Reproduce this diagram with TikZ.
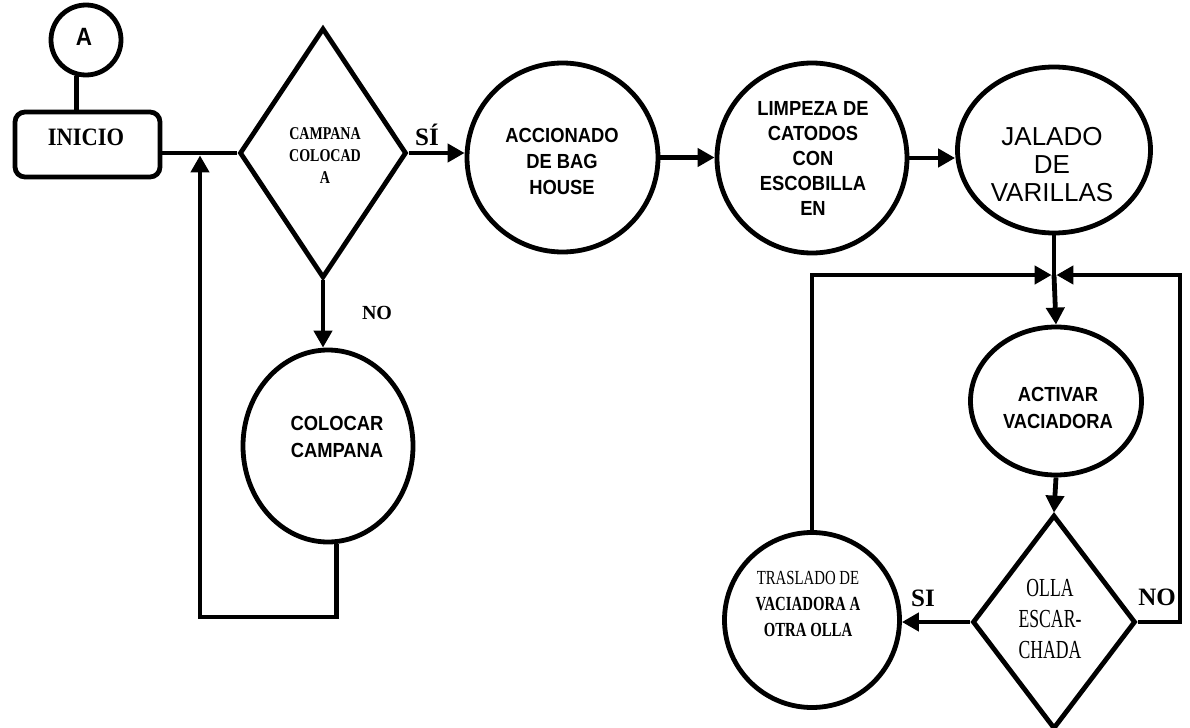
\documentclass[tikz,border=0pt]{standalone}
\usepackage{fontspec}
\setmainfont{Liberation Serif}
\newfontfamily\sansbody[FakeStretch=0.9]{Liberation Sans}
\newfontfamily\sansplain{Liberation Sans}
\newfontfamily\serifcond[FakeStretch=0.78]{Liberation Serif}
\newfontfamily\serifmid[FakeStretch=0.74]{Liberation Serif}
\newfontfamily\serifnarrow[FakeStretch=0.68]{Liberation Serif}
\newfontfamily\serifstart[FakeStretch=0.9]{Liberation Serif}
\usetikzlibrary{shapes.geometric,arrows.meta,calc}

\begin{document}
\begin{tikzpicture}[x=0.5pt,y=-0.5pt,
  shapebox/.style={draw, line width=2.4pt, inner sep=0pt},
  proc/.style={shapebox, ellipse},
  decision/.style={shapebox, diamond},
  link/.style={line width=2.4pt},
  flow/.style={link, -{Triangle[length=8.5pt,width=9pt]}},
  txt/.style={inner sep=0pt, align=center},
  sanstxt/.style={txt, font=\sansbody\bfseries\fontsize{10.2}{13}\selectfont},
  answer/.style={txt, font=\bfseries\fontsize{12.5}{14}\selectfont}
]
\useasboundingbox (0,0) rectangle (1190,728);

% shapes
\node[proc, minimum width=35pt, minimum height=35pt] (A) at (86,40) {};
\node[shapebox, rounded corners=5pt, minimum width=72.5pt, minimum height=32.5pt] (inicio) at (87.5,144.5) {};
\node[decision, minimum width=83.5pt, minimum height=125pt] (d1) at (323,153) {};
\node[proc, minimum width=95.5pt, minimum height=94.5pt] (acc) at (562.5,157.5) {};
\node[proc, minimum width=95pt, minimum height=95pt] (limp) at (812,158) {};
\node[proc, minimum width=96.5pt, minimum height=83pt] (jal) at (1054,150) {};
\node[proc, minimum width=85pt, minimum height=96pt] (col) at (328,446) {};
\node[proc, minimum width=85.5pt, minimum height=74pt] (act) at (1056,401) {};
\node[decision, minimum width=81.5pt, minimum height=107pt] (d2) at (1054,622) {};
\node[proc, minimum width=87.5pt, minimum height=87.5pt] (tras) at (812,620) {};

% texts
\node[txt, font=\sansbody\bfseries\fontsize{12.5}{14}\selectfont] (A-t) at (84,37) {A};
\node[txt, font=\serifstart\bfseries\fontsize{12.5}{14}\selectfont] (inicio-t) at (86,137) {INICIO};
\node[txt, font=\serifcond\bfseries\fontsize{9}{11}\selectfont] (d1-t) at (325,156) {CAMPANA\\COLOCAD\\A};
\node[sanstxt] (acc-t) at (562,161) {ACCIONADO\\DE BAG\\HOUSE};
\node[sanstxt, font=\sansbody\bfseries\fontsize{10.2}{12.5}\selectfont] (limp-t) at (813,158) {LIMPEZA DE\\CATODOS\\CON\\ESCOBILLA\\EN};
\node[txt, font=\sansplain\fontsize{13}{14}\selectfont] (jal-t) at (1052,165) {JALADO\\DE\\VARILLAS};
\node[sanstxt, font=\sansbody\bfseries\fontsize{10.2}{13.5}\selectfont] (col-t) at (337,437) {COLOCAR\\CAMPANA};
\node[sanstxt, font=\sansbody\bfseries\fontsize{10.2}{13.5}\selectfont] (act-t) at (1058,408) {ACTIVAR\\VACIADORA};
\node[txt, font=\serifnarrow\fontsize{13}{15.5}\selectfont] (d2-t) at (1050,619) {OLLA\\ESCAR-\\CHADA};
\node[txt, font=\serifmid\fontsize{10}{13}\selectfont] (tras-t) at (808,604) {TRASLADO DE\\\bfseries VACIADORA A\\\bfseries OTRA OLLA};

% answer labels
\node[answer] (si1) at (427,135) {SÍ};
\node[answer, font=\bfseries\fontsize{10}{12}\selectfont] (no1) at (377,313) {NO};
\node[answer] (si2) at (923,598) {SI};
\node[answer] (no2) at (1157,597) {NO};

% junction points
\coordinate (merge) at (200,153);
\coordinate (J) at (1054,275);
\coordinate (rloop) at (1180,275);

% connectors
\draw[link] (A.255) -- (A.255 |- inicio.north);
\draw[link] (inicio.east |- d1.west) -- (d1.west);
\draw[flow] (d1.east) -- (d1.east -| acc.west);
\draw[flow] (acc.east) -- (acc.east -| limp.west);
\draw[flow] (limp.east) -- (limp.east -| jal.west);
\draw[flow] (d1.south) -- (d1.south |- col.north);
\draw[flow, shorten >=1.2pt] (col.-85) -- ++(0,73) -| (merge);
\draw[link] (jal.south) -- (J);
\draw[flow] (J) -- (act.north);
\draw[flow] (act.south) -- (d2.north);
\draw[flow] (d2.west) -- (d2.west -| tras.east);
\draw[flow, shorten >=1.2pt] (d2.east) -| (rloop) -- (J);
\draw[flow, shorten >=1.2pt] (tras.north) |- (J);
\end{tikzpicture}
\end{document}
